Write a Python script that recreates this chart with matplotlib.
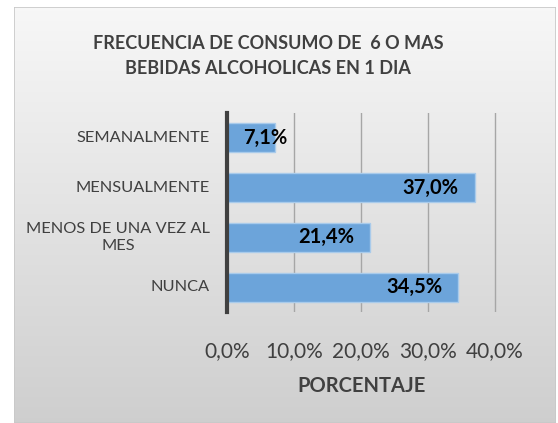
import numpy as np
import matplotlib
matplotlib.use('Agg')
import matplotlib.pyplot as plt
from matplotlib.patches import Rectangle

plt.rcParams['font.family'] = ['Lato', 'DejaVu Sans']

categorias = ['SEMANALMENTE', 'MENSUALMENTE', 'MENOS DE UNA VEZ AL\nMES', 'NUNCA']
porcentajes = [7.1, 37.0, 21.4, 34.5]
ticks_x = [0, 10, 20, 30, 40]
etiquetas_x = ['0,0%', '10,0%', '20,0%', '30,0%', '40,0%']

fig = plt.figure(figsize=(5.58, 4.23), dpi=100)
fig.patch.set_facecolor('white')

# fondo con degradado, como el area del grafico de Excel
bg = fig.add_axes([14 / 558, 0, 542 / 558, 416 / 423])
grad = np.linspace(0.97, 0.81, 256).reshape(-1, 1)
bg.imshow(np.dstack([grad, grad, grad]), aspect='auto', extent=[0, 1, 0, 1])
bg.set_xlim(0, 1)
bg.set_ylim(0, 1)
bg.axis('off')
bg.add_patch(Rectangle((0, 0), 1, 1, fill=False, edgecolor='#c8c8c8', lw=1.2,
                       transform=bg.transAxes))

ax = fig.add_axes([227 / 558, 1 - 312 / 423, 270 / 558, 199 / 423])
ax.set_facecolor('none')

y = np.arange(len(categorias))
ax.barh(y, porcentajes, height=0.58, color='#6ca4da', edgecolor='#a9cbeb', lw=1, zorder=3)

for yi, v in zip(y, porcentajes):
    txt = f'{v:.1f}%'.replace('.', ',')
    if v < 10:
        ax.text(2.4, yi, txt, ha='left', va='center', fontsize=14.5, fontweight='bold',
                color='black', zorder=4)
    else:
        ax.text(v - 2.4, yi, txt, ha='right', va='center', fontsize=14.5, fontweight='bold',
                color='black', zorder=4)

ax.set_xlim(0, 40.3)
ax.set_ylim(3.5, -0.5)
ax.set_yticks(y)
ax.set_yticklabels([])
# etiquetas de categoria a mano para centrar la segunda linea
for yi, cat in zip(y, categorias):
    ax.text(-0.063, yi, cat, transform=ax.get_yaxis_transform(), ha='right', va='center',
            multialignment='center', fontsize=11.8, color='#404040', linespacing=1.25)
ax.set_xticks(ticks_x)
ax.set_xticklabels(etiquetas_x, fontsize=15, color='#404040')
ax.tick_params(axis='y', length=0)
ax.tick_params(axis='x', length=0, pad=21)

ax.grid(axis='x', color='#a6a6a6', lw=1, zorder=1)
for s in ['top', 'right', 'bottom']:
    ax.spines[s].set_visible(False)
ax.spines['left'].set_color('#404040')
ax.spines['left'].set_linewidth(3)
ax.spines['left'].set_zorder(5)

ax.set_xlabel('PORCENTAJE', fontsize=14.5, fontweight='bold', color='#404040', labelpad=11)

fig.text(268 / 558, 1 - 56 / 423, 'FRECUENCIA DE CONSUMO DE  6 O MAS\nBEBIDAS ALCOHOLICAS EN 1 DIA',
         ha='center', va='center', fontsize=13, fontweight='bold', color='#404040',
         linespacing=1.6)

fig.savefig('out.png', dpi=100)
